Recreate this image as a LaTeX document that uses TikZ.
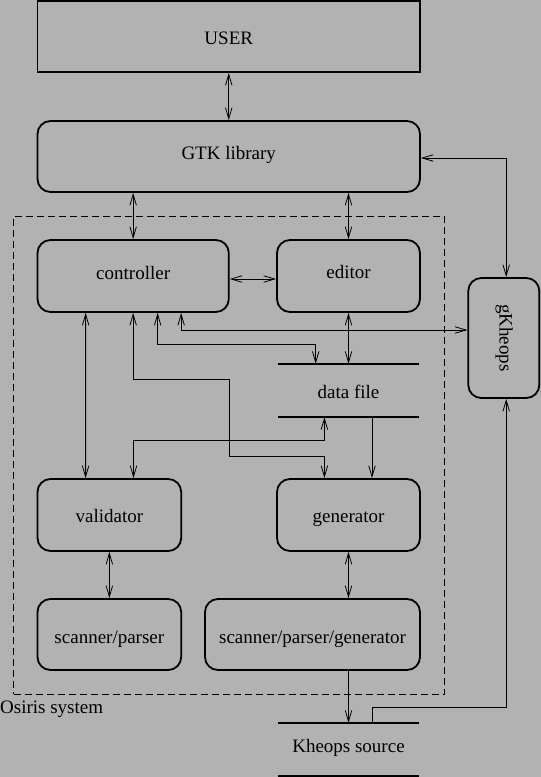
\documentclass[tikz,border=0pt]{standalone}
\usepackage{fontspec}
\setmainfont{Liberation Serif}
\usetikzlibrary{arrows.meta}
\definecolor{bg}{gray}{0.7}
\begin{document}
\begin{tikzpicture}[x=1pt,y=-1pt,
  font=\fontsize{19}{22}\selectfont,
  box/.style={draw, line width=1.8pt, rounded corners=13pt, text depth=0pt, inner sep=0pt},
  sharpbox/.style={draw, line width=1.8pt, text depth=0pt, inner sep=0pt},
  store/.style={minimum width=140pt, minimum height=53pt, text depth=0pt, inner sep=0pt},
  storeline/.style={line width=1.8pt},
  conn/.style={line width=0.8pt},
  >={Straight Barb[length=11pt,width=6.5pt]}]
\useasboundingbox (0,0) rectangle (541,777);
\fill[bg] (0,0) rectangle (541,777);
% dashed frame
\node[draw, dashed, dash pattern=on 7pt off 4pt, line width=0.8pt, minimum width=430.6pt, minimum height=478pt, inner sep=0pt] (osiris) at (229.1,455) {};
\node[anchor=base west, inner sep=0pt] (osirislabel) at (0,713) {Osiris system};
% boxes
\node[sharpbox, minimum width=382.5pt, minimum height=71pt, text height=15.6pt] (user) at (228.75,36.5) {USER};
\node[box, minimum width=382.5pt, minimum height=71pt, text height=5pt] (gtk) at (228.75,156.5) {GTK library};
\node[box, minimum width=191.3pt, minimum height=72pt, text height=6.6pt] (ctrl) at (133.15,276) {controller};
\node[box, minimum width=143pt, minimum height=72pt, text height=5.4pt] (editor) at (348.5,276) {editor};
\node[box, minimum width=71pt, minimum height=120pt] (gk) at (503.8,338) {};
\node[rotate=-90, text height=8.6pt, text depth=0pt, inner sep=0pt] (gktext) at (gk.center) {gKheops};
\node[box, minimum width=143.7pt, minimum height=72pt, text height=15.4pt] (validator) at (109.35,515) {validator};
\node[box, minimum width=143pt, minimum height=72pt, text height=15.4pt] (generator) at (348.5,515) {generator};
\node[box, minimum width=143.7pt, minimum height=71pt, text height=17.6pt] (sp) at (109.35,634.5) {scanner/parser};
\node[box, minimum width=215pt, minimum height=71pt, text height=17.6pt] (spg) at (312.5,634.5) {scanner/parser/generator};
\node[store, text height=15.6pt] (df) at (348.5,390.5) {data file};
\draw[storeline] (df.north west) -- (df.north east);
\draw[storeline] (df.south west) -- (df.south east);
\node[store, text height=6.4pt] (ks) at (348.5,749.5) {Kheops source};
\draw[storeline] (ks.north west) -- (ks.north east);
\draw[storeline] (ks.south west) -- (ks.south east);
% connectors
\draw[conn,<->] (user) -- (gtk);
\draw[conn,<->] ([yshift=-1.5pt]gtk.east) -| ([xshift=2.4pt]gk.north);
\draw[conn,<->] (gtk.south -| ctrl.north) -- (ctrl.north);
\draw[conn,<->] (gtk.south -| editor.north) -- (editor.north);
\draw[conn,<->] ([yshift=-3pt]ctrl.east) -- ([yshift=-3pt]editor.west);
\draw[conn,<->] ([xshift=48pt]ctrl.south) |- ([yshift=8pt]gk.west);
\draw[conn,<->] ([xshift=24.5pt]ctrl.south) |- ([xshift=-32.8pt,yshift=19pt]df.north) -- ([xshift=-32.8pt]df.north);
\draw[conn,<->] (editor.south) -- (df.north);
\draw[conn,<->] (ctrl.south) -- ++(0,66) -| ++(96,77) -| ([xshift=-24.1pt]generator.north);
\draw[conn,<->] ([xshift=-47.5pt]ctrl.south) -- ([xshift=-23.75pt]validator.north);
\draw[conn,<->] ([xshift=-24.1pt]df.south) -- ++(0,23) -| ([xshift=24.15pt]validator.north);
\draw[conn,->] ([xshift=23.5pt]df.south) -- ([xshift=23.5pt]generator.north);
\draw[conn,<->] (validator) -- (sp);
\draw[conn,<->] (generator.south) -- (generator.south |- spg.north);
\draw[conn,->] (ks.north |- spg.south) -- (ks.north);
\draw[conn,->] ([xshift=23.5pt]ks.north) -- ++(0,-15) -| ([xshift=2.4pt]gk.south);
\end{tikzpicture}
\end{document}
